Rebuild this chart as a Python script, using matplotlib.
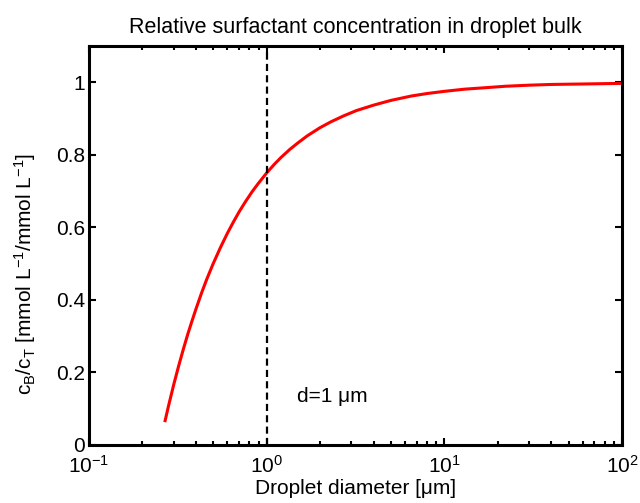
import math
import matplotlib
matplotlib.use("Agg")
import matplotlib.pyplot as plt
from matplotlib.ticker import LogLocator, FixedLocator, FuncFormatter, NullFormatter

plt.rcParams['font.family'] = ['Liberation Sans', 'DejaVu Sans']
plt.rcParams['mathtext.fontset'] = 'custom'
plt.rcParams['mathtext.rm'] = 'Liberation Sans'
plt.rcParams['mathtext.it'] = 'Liberation Sans:italic'
plt.rcParams['mathtext.bf'] = 'Liberation Sans:bold'

# Data
diameter = [0.267, 0.28, 0.30, 0.32, 0.34, 0.36, 0.38, 0.40, 0.43, 0.46, 0.50,
            0.55, 0.60, 0.65, 0.70, 0.76, 0.83, 0.90, 1.0, 1.1, 1.2, 1.35, 1.5,
            1.7, 2.0, 2.3, 2.7, 3.2, 4.0, 5.0, 6.5, 8.0, 10.0, 13.0, 17.0, 22.0,
            30.0, 40.0, 55.0, 75.0, 100.0]
ratio = [0.063, 0.107, 0.167, 0.219, 0.265, 0.306, 0.342, 0.375, 0.419, 0.457,
         0.500, 0.545, 0.583, 0.615, 0.643, 0.671, 0.699, 0.722, 0.750, 0.773,
         0.792, 0.815, 0.833, 0.853, 0.875, 0.891, 0.907, 0.922, 0.937, 0.950,
         0.962, 0.969, 0.975, 0.981, 0.985, 0.989, 0.992, 0.994, 0.995, 0.996,
         0.997]
marker_d = 1.0
yticks = [0, 0.2, 0.4, 0.6, 0.8, 1.0]
ytick_labels = ["0", "0.2", "0.4", "0.6", "0.8", "1"]

FS = 15

fig = plt.figure(figsize=(6.4, 5.03), dpi=100)
ax = fig.add_axes([89 / 640, 58 / 503, 533 / 640, 399 / 503])

ax.plot(diameter, ratio, color='#ff0000', linewidth=2.2, solid_capstyle='butt',
        solid_joinstyle='round')
ax.axvline(marker_d, color='black', linestyle=(0, (3.2, 1.9)), linewidth=1.6)
ax.text(1.48, 0.118, 'd=1 μm', fontsize=FS, ha='left', va='baseline')

ax.set_xscale('log')
ax.set_xlim(0.1, 100)
ax.set_ylim(0, 1.1)
ax.set_yticks(yticks)
ax.set_yticklabels(ytick_labels)
ax.xaxis.set_major_locator(FixedLocator([0.1, 1, 10, 100]))
ax.xaxis.set_major_formatter(FuncFormatter(
    lambda v, p: r'$\mathrm{10^{%d}}$' % round(math.log10(v))))
ax.xaxis.set_minor_locator(LogLocator(base=10, subs=range(2, 10)))
ax.xaxis.set_minor_formatter(NullFormatter())

for s in ax.spines.values():
    s.set_linewidth(2.2)
ax.tick_params(which='both', direction='in', top=True, right=True,
               labelsize=FS, width=1.5)
ax.tick_params(which='major', length=5)
ax.tick_params(axis='y', which='major', pad=3)
ax.tick_params(axis='x', which='major', pad=7)
ax.tick_params(which='minor', length=3)

ax.set_xlabel('Droplet diameter [μm]', fontsize=FS, labelpad=2)
ax.set_ylabel(r'$\mathrm{c_B/c_T\ [mmol\ L^{-1}/mmol\ L^{-1}]}$', fontsize=FS)
ax.yaxis.set_label_coords(-0.095, 0.43)
ax.set_title('Relative surfactant concentration in droplet bulk', fontsize=FS + 0.5, pad=9)

fig.savefig('out.png', dpi=100)
